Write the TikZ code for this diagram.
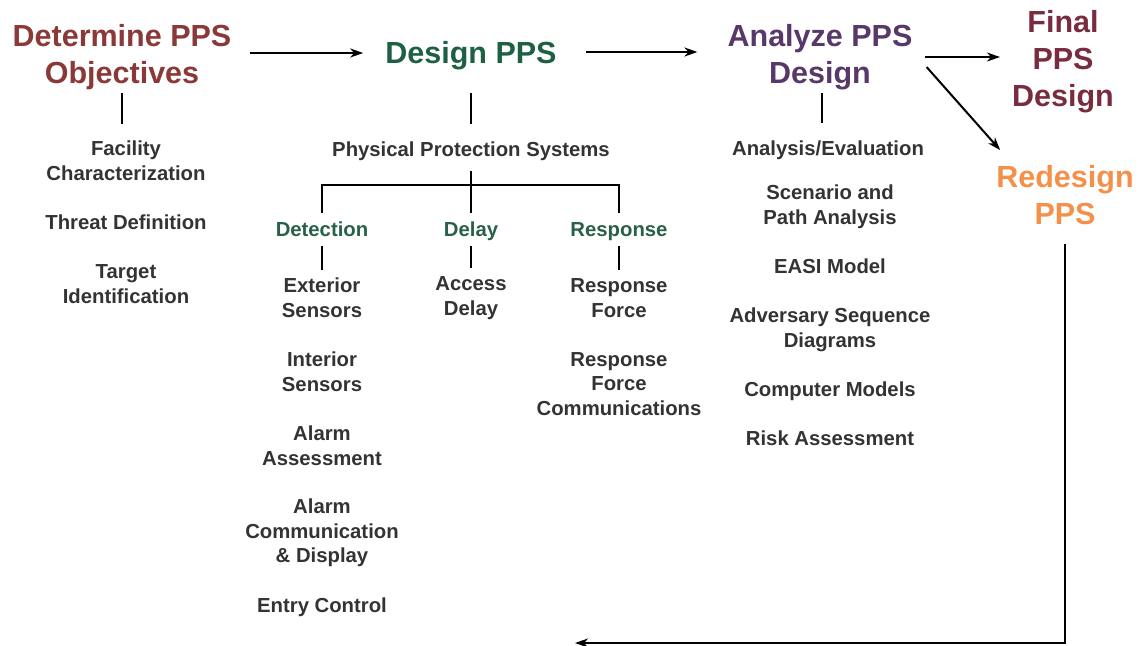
\documentclass[tikz,border=0pt]{standalone}
\usepackage{fontspec}
\setmainfont{Liberation Sans}
\usetikzlibrary{arrows.meta}
\definecolor{objred}{RGB}{139,56,56}
\definecolor{desgreen}{RGB}{30,96,66}
\definecolor{anapurple}{RGB}{88,56,104}
\definecolor{finmaroon}{RGB}{120,44,62}
\definecolor{redorange}{RGB}{244,144,74}
\definecolor{subgreen}{RGB}{40,96,72}
\definecolor{bodygray}{RGB}{51,51,51}
\begin{document}
\begin{tikzpicture}[x=1pt,y=-1pt,
  every node/.style={align=center,inner sep=0pt},
  title/.style={font=\fontsize{30.5}{37}\selectfont\bfseries},
  item/.style={text=bodygray,font=\fontsize{20.3}{24.6}\selectfont\bfseries},
  sub/.style={text=subgreen,font=\fontsize{20.3}{24.6}\selectfont\bfseries,text height=15pt,text depth=5pt},
  arr/.style={-{Stealth[length=13pt,width=9pt,inset=4pt]},line width=2pt},
  tick/.style={line width=2pt}]
\useasboundingbox (0,0) rectangle (1139,645);
% main steps
\node[title,text=objred] (obj) at (122,57) {Determine PPS\\Objectives};
\node[title,text=desgreen] (des) at (471,56) {Design PPS};
\node[title,text=anapurple] (ana) at (820,57) {Analyze PPS\\Design};
\node[title,text=finmaroon] (fin) at (1063,62) {Final\\PPS\\Design};
\node[title,text=redorange] (red) at (1065,195) {Redesign\\PPS};
% objectives
\node[item] (fac) at (126,161) {Facility\\Characterization};
\node[item] (thr) at (126,222) {Threat Definition};
\node[item] (tgt) at (126,284) {Target\\Identification};
% design
\node[item] (pps) at (471,151) {Physical Protection Systems};
\coordinate (bar) at (471,185);
\node[sub] (det) at (322,231) {Detection};
\node[sub] (del) at (471,231) {Delay};
\node[sub] (rsp) at (619,231) {Response};
\node[item] (ext) at (322,298) {Exterior\\Sensors};
\node[item] (int) at (322,372) {Interior\\Sensors};
\node[item] (asm) at (322,446) {Alarm\\Assessment};
\node[item] (acd) at (322,533) {Alarm\\Communication\\\& Display};
\node[item] (ent) at (322,607) {Entry Control};
\node[item] (acc) at (471,298) {Access\\Delay};
\node[item] (rf) at (619,298) {Response\\Force};
\node[item] (rfc) at (619,384) {Response\\Force\\Communications};
% analysis
\node[item] (aev) at (828,150) {Analysis/Evaluation};
\node[item] (spa) at (830,207) {Scenario and\\Path Analysis};
\node[item] (easi) at (830,266) {EASI Model};
\node[item] (asd) at (830,330) {Adversary Sequence\\Diagrams};
\node[item] (cm) at (830,391) {Computer Models};
\node[item] (risk) at (830,438) {Risk Assessment};
\coordinate (ret) at (575,643);

\draw[arr,shorten <=18pt,shorten >=22pt] ([yshift=4pt]obj.east) -- ([yshift=3pt]des.west);
\draw[arr,shorten <=29pt,shorten >=30pt] ([yshift=4pt]des.east) -- ([yshift=5pt]ana.west);
\draw[arr,shorten <=12pt] (ana.east) -- (ana.east -| {(1000,0)});
\draw[arr] ([shift={(14,10)}]ana.east) -- ([shift={(4,-15)}]red.north west);
\draw[arr,shorten <=19pt] (red.south) |- (ret);

\draw[tick,shorten <=3pt,shorten >=17pt] (obj.south) -- (obj.south |- fac.north);
\draw[tick,shorten <=23pt,shorten >=17pt] (pps.north |- des.south) -- (pps.north);
\draw[tick,shorten <=3pt,shorten >=17pt] (ana.south -| {(822,0)}) -- (aev.north -| {(822,0)});
\draw[tick,shorten <=10pt,shorten >=8pt] (pps.south) -- (del.north);
\draw[tick,shorten <=8pt,shorten >=8pt] (det.north) |- (bar) -| (rsp.north);
\foreach \s/\t in {det/ext,del/acc,rsp/rf}
  \draw[tick,shorten <=5pt,shorten >=8pt] (\s.south) -- (\t.north);
\end{tikzpicture}
\end{document}
